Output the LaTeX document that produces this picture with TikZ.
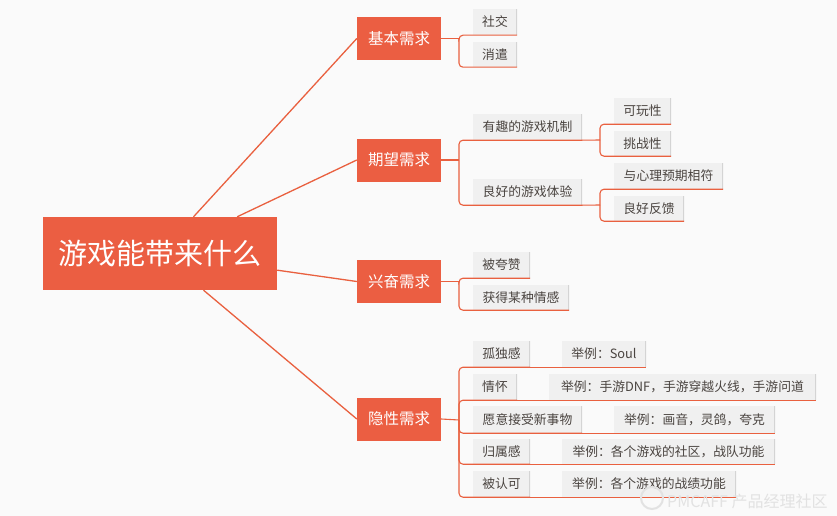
\documentclass[tikz,border=0pt]{standalone}
\usepackage{fontspec}
\setmainfont{Noto Sans CJK SC}
\definecolor{bg}{HTML}{FAFAFA}
\definecolor{accent}{HTML}{EB5E42}
\definecolor{lineor}{HTML}{E9603F}
\definecolor{leaffill}{HTML}{F0F0F0}
\definecolor{leafshade}{HTML}{D4D4D4}
\definecolor{leaftext}{HTML}{4A4440}
\definecolor{wmgray}{HTML}{E2E2E2}
\tikzset{
  rootbox/.style={fill=accent, text=white, font=\fontsize{29}{32}\selectfont,
    inner sep=0pt, minimum width=234pt, minimum height=73pt},
  mainbox/.style={fill=accent, text=white, font=\fontsize{15.5}{18}\selectfont,
    inner sep=0pt, minimum width=84pt, minimum height=43pt},
  leafbox/.style={fill=leaffill, text=leaftext, font=\fontsize{12.8}{15}\selectfont,
    inner sep=0pt,
    path picture={\draw[leafshade, line width=3pt]
      (path picture bounding box.north east) -- (path picture bounding box.south east);}},
  rootline/.style={draw=lineor, line width=1.3pt},
  conn/.style={draw=lineor, line width=1.1pt, rounded corners=4pt},
}
\newcommand\mkleaf[6]{%
  \node[leafbox, minimum width={#4pt-#2pt}, minimum height={#5pt-#3pt}]
    (#1) at ({(#2+#4)/2},{(#3+#5)/2}) {#6};}
\begin{document}
\begin{tikzpicture}[x=1pt,y=-1pt]
\useasboundingbox (0,0) rectangle (837,516);
\fill[bg] (0,0) rectangle (837,516);

% root and main branches
\node[rootbox] (root) at (160,253.5) {游戏能带来什么};
\node[mainbox] (b1) at (399,38.5) {基本需求};
\node[mainbox] (b2) at (399,160) {期望需求};
\node[mainbox] (b3) at (399,281.5) {兴奋需求};
\node[mainbox] (b4) at (399,419) {隐性需求};

\draw[rootline] (root) -- (b1.west);
\draw[rootline] (root) -- (b2.west);
\draw[rootline] (root) -- (b3.west);
\draw[rootline] (root) -- (b4.west);

% leaves
\mkleaf{s11}{473}{9}{517}{35}{社交}
\mkleaf{s12}{473}{42}{517}{67}{消遣}

\mkleaf{s21}{473}{114}{582}{140}{有趣的游戏机制}
\mkleaf{s22}{473}{179}{582}{205}{良好的游戏体验}
\mkleaf{s211}{614}{98}{671}{124}{可玩性}
\mkleaf{s212}{614}{131}{671}{156}{挑战性}
\mkleaf{s221}{614}{163}{723}{189}{与心理预期相符}
\mkleaf{s222}{614}{196}{684}{221}{良好反馈}

\mkleaf{s31}{473}{252}{530}{278}{被夸赞}
\mkleaf{s32}{473}{285}{569}{310}{获得某种情感}

\mkleaf{s41}{473}{341}{530}{367}{孤独感}
\mkleaf{s42}{473}{374}{517}{400}{情怀}
\mkleaf{s43}{473}{406}{582}{433}{愿意接受新事物}
\mkleaf{s44}{473}{439}{530}{464}{归属感}
\mkleaf{s45}{473}{471}{530}{497}{被认可}
\mkleaf{e41}{562}{341}{646}{367}{举例：Soul}
\mkleaf{e42}{549}{374}{816}{400}{举例：手游DNF，手游穿越火线，手游问道}
\mkleaf{e43}{614}{406}{775}{433}{举例：画音，灵鸽，夸克}
\mkleaf{e44}{562}{439}{775}{464}{举例：各个游戏的社区，战队功能}
\mkleaf{e45}{562}{471}{736}{497}{举例：各个游戏的战绩功能}

% junction points
\coordinate (j1) at (459,38.5);
\coordinate (j2) at (459,160);
\coordinate (j3) at (459,281.5);
\coordinate (j4) at (459,420);
\coordinate (j21) at (600,140);
\coordinate (j22) at (600,205);

% connectors: basic
\draw[conn] (b1.east) -- (j1);
\draw[conn] (j1) |- (s11.south west) -- (s11.south east);
\draw[conn] (j1) |- (s12.south west) -- (s12.south east);

% expected
\draw[conn] (b2.east) -- (j2);
\draw[conn] (j2) |- (s21.south west) -- (s21.south east);
\draw[conn] (j2) |- (s22.south west) -- (s22.south east);
\draw[conn] (s21.south east) -- (j21);
\draw[conn] (j21) |- (s211.south west) -- (s211.south east);
\draw[conn] (j21) |- (s212.south west) -- (s212.south east);
\draw[conn] (s22.south east) -- (j22);
\draw[conn] (j22) |- (s221.south west) -- (s221.south east);
\draw[conn] (j22) |- (s222.south west) -- (s222.south east);

% excitement
\draw[conn] (b3.east) -- (j3);
\draw[conn] (j3) |- (s31.south west) -- (s31.south east);
\draw[conn] (j3) |- (s32.south west) -- (s32.south east);

% hidden
\draw[conn] (b4.east) -- (j4);
\draw[conn] (j4) |- (s41.south west) -- (s41.south east);
\draw[conn] (j4) |- (s42.south west) -- (s42.south east);
\draw[conn] (j4) |- (s43.south west) -- (s43.south east);
\draw[conn] (j4) |- (s44.south west) -- (s44.south east);
\draw[conn] (j4) |- (s45.south west) -- (s45.south east);
\draw[conn] (s41.south east) -- (e41.south west) -- (e41.south east);
\draw[conn] (s42.south east) -- (e42.south west) -- (e42.south east);
\draw[conn] (s43.south east) -- (e43.south west) -- (e43.south east);
\draw[conn] (s44.south east) -- (e44.south west) -- (e44.south east);
\draw[conn] (s45.south east) -- (e45.south west) -- (e45.south east);

% watermark
\node[circle, draw=wmgray, line width=2pt, minimum size=22pt, inner sep=0pt] (wmlogo) at (652,498) {};
\node[anchor=west, text=wmgray, font=\fontsize{16}{19}\selectfont, inner sep=0pt] (wmtext) at (667,501) {PMCAFF 产品经理社区};
\end{tikzpicture}
\end{document}
